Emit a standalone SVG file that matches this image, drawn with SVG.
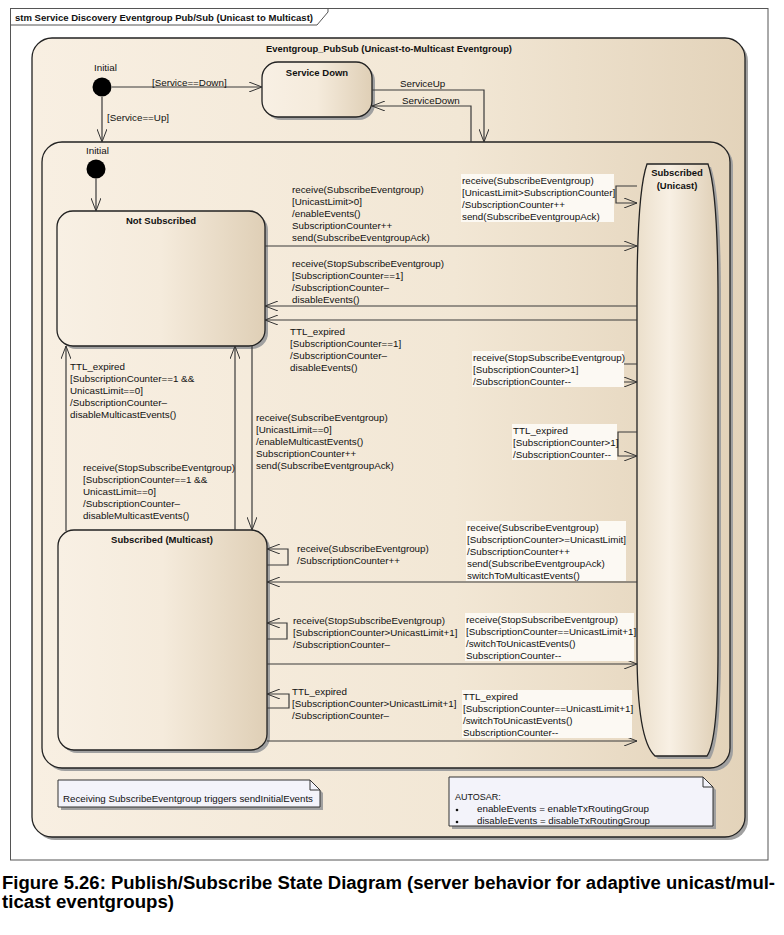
<svg xmlns="http://www.w3.org/2000/svg" width="784" height="935" viewBox="0 0 784 935">
<defs>
<linearGradient id="gState" x1="0" y1="0" x2="1" y2="0">
<stop offset="0" stop-color="#f8f0e4"/><stop offset="0.5" stop-color="#f5ebdc"/><stop offset="1" stop-color="#dfcfb6"/>
</linearGradient>
<linearGradient id="gComp" x1="0" y1="0" x2="1" y2="0">
<stop offset="0" stop-color="#f8efe2"/><stop offset="0.6" stop-color="#f2e7d5"/><stop offset="1" stop-color="#e3d3ba"/>
</linearGradient>
<linearGradient id="gUni" x1="0" y1="0" x2="1" y2="0">
<stop offset="0" stop-color="#ebdfcb"/><stop offset="0.4" stop-color="#f8f0e4"/><stop offset="1" stop-color="#dfcfb6"/>
</linearGradient>
<marker id="arr" viewBox="0 0 13 10" refX="13" refY="5" markerWidth="13" markerHeight="10" markerUnits="userSpaceOnUse" orient="auto">
<path d="M0,0 L13,5 L0,10" fill="none" stroke="#333" stroke-width="1"/>
</marker>
<style>
text{font-family:"Liberation Sans",Arial,sans-serif;fill:#111}
.lbl{font-size:9.8px}
.ttl{font-size:9.5px;font-weight:bold}
.st{stroke:#222;stroke-width:1.3}
.sh{fill:#a0a0a0}
.cn{fill:none;stroke:#3a3a3a;stroke-width:1.2}
.cn path{marker-end:url(#arr)}
.bg{fill:#fcf9f3}
.note{fill:#f3f3fa;stroke:#333;stroke-width:1}
.cap{font-size:18px;font-weight:bold;fill:#000}
</style>
</defs>
<rect width="784" height="935" fill="#fff"/>
<g id="frame">
<rect x="10.5" y="8.5" width="757.5" height="851.5" fill="#fff" stroke="#555" stroke-width="1"/>
<path d="M10.5,25 H317 L328,12 V8.5" fill="none" stroke="#555" stroke-width="1"/>
<text x="15" y="20.5" style="font-size:9px;font-weight:bold" textLength="298" lengthAdjust="spacingAndGlyphs">stm Service Discovery Eventgroup Pub/Sub (Unicast to Multicast)</text>
</g>
<g id="eventgroup_pubsub">
<rect x="35" y="41" width="713" height="799" rx="20" class="sh"/>
<rect x="32" y="38" width="713" height="799" rx="20" fill="url(#gComp)" class="st"/>
<text x="389" y="51.5" class="ttl" text-anchor="middle" textLength="246" lengthAdjust="spacingAndGlyphs">Eventgroup_PubSub (Unicast-to-Multicast Eventgroup)</text>
</g>
<g id="initial1">
<circle cx="102" cy="87" r="9.5" fill="#000"/>
<text x="94" y="70.5" class="lbl">Initial</text>
</g>
<g id="service_down">
<rect x="265" y="65" width="110" height="55" rx="16" class="sh"/>
<rect x="262" y="62" width="110" height="55" rx="16" fill="url(#gState)" class="st"/>
<text x="317" y="75.5" class="ttl" text-anchor="middle">Service Down</text>
</g>
<g id="active">
<rect x="45" y="145" width="688" height="626" rx="20" class="sh"/>
<rect x="42" y="142" width="688" height="626" rx="20" fill="url(#gComp)" class="st"/>
</g>
<g id="initial2">
<circle cx="96" cy="169" r="9.5" fill="#000"/>
<text x="86" y="154" class="lbl">Initial</text>
</g>
<g id="not_subscribed">
<rect x="60" y="214" width="208" height="135" rx="16" class="sh"/>
<rect x="57" y="211" width="208" height="135" rx="16" fill="url(#gState)" class="st"/>
<text x="161" y="223.5" class="ttl" text-anchor="middle">Not Subscribed</text>
</g>
<g id="subscribed_multicast">
<rect x="61" y="533" width="209" height="220" rx="16" class="sh"/>
<rect x="58" y="530" width="209" height="220" rx="16" fill="url(#gState)" class="st"/>
<text x="162" y="542.5" class="ttl" text-anchor="middle">Subscribed (Multicast)</text>
</g>
<g id="subscribed_unicast">
<path d="M650,167 L711,167 Q721,195 721,300 L721,650 Q721,743 710,759 L658,759 Q640,743 640,650 L640,300 Q640,195 650,167 Z" class="sh"/>
<path d="M647,164 L708,164 Q718,192 718,300 L718,650 Q718,740 707,756 L655,756 Q637,740 637,650 L637,300 Q637,192 647,164 Z" fill="url(#gUni)" class="st"/>
<text x="677" y="176" class="ttl" text-anchor="middle">Subscribed</text>
<text x="677" y="188.5" class="ttl" text-anchor="middle">(Unicast)</text>
</g>
<g id="connectors" class="cn">
<path d="M112,87 H262"/>
<path d="M102,97 V142"/>
<path d="M372,90 H484 V142"/>
<path d="M471,142 V106 H372"/>
<path d="M96,178.5 V211"/>
<path d="M265,246 H637"/>
<path d="M637,306 H265"/>
<path d="M637,320 H265"/>
<path d="M637,186 H616 V203 H637"/>
<path d="M637,364 H621 V382 H637"/>
<path d="M637,432 H618 V456 H637"/>
<path d="M637,582 H267"/>
<path d="M267,664 H637"/>
<path d="M267,741 H637"/>
<path d="M267,565 H288 V549 H267"/>
<path d="M267,639 H287 V623 H267"/>
<path d="M267,708 H289 V694 H267"/>
<path d="M66,531 V346"/>
<path d="M235,530 V346"/>
<path d="M252,346 V530"/>
</g>
<g id="labels">
<text x="152" y="85.5" class="lbl">[Service==Down]</text>
<text x="107" y="120.5" class="lbl">[Service==Up]</text>
<text x="400" y="86.5" class="lbl">ServiceUp</text>
<text x="402" y="103.5" class="lbl">ServiceDown</text>
<text class="lbl" y="192.5"><tspan x="292">receive(SubscribeEventgroup)</tspan><tspan x="292" dy="12">[UnicastLimit&gt;0]</tspan><tspan x="292" dy="12">/enableEvents()</tspan><tspan x="292" dy="12">SubscriptionCounter++</tspan><tspan x="292" dy="12">send(SubscribeEventgroupAck)</tspan></text>
<text class="lbl" y="266.5"><tspan x="292">receive(StopSubscribeEventgroup)</tspan><tspan x="292" dy="12">[SubscriptionCounter==1]</tspan><tspan x="292" dy="12">/SubscriptionCounter–</tspan><tspan x="292" dy="12">disableEvents()</tspan></text>
<text class="lbl" y="334.5"><tspan x="290">TTL_expired</tspan><tspan x="290" dy="12">[SubscriptionCounter==1]</tspan><tspan x="290" dy="12">/SubscriptionCounter–</tspan><tspan x="290" dy="12">disableEvents()</tspan></text>
<rect x="461" y="174" width="153" height="48" class="bg"/>
<text class="lbl" y="183.5"><tspan x="462">receive(SubscribeEventgroup)</tspan><tspan x="462" dy="12">[UnicastLimit&gt;SubscriptionCounter]</tspan><tspan x="462" dy="12">/SubscriptionCounter++</tspan><tspan x="462" dy="12">send(SubscribeEventgroupAck)</tspan></text>
<rect x="472" y="351" width="152" height="36" class="bg"/>
<text class="lbl" y="360.5"><tspan x="473">receive(StopSubscribeEventgroup)</tspan><tspan x="473" dy="12">[SubscriptionCounter&gt;1]</tspan><tspan x="473" dy="12">/SubscriptionCounter--</tspan></text>
<rect x="512" y="424" width="105" height="36" class="bg"/>
<text class="lbl" y="433.5"><tspan x="513">TTL_expired</tspan><tspan x="513" dy="12">[SubscriptionCounter&gt;1]</tspan><tspan x="513" dy="12">/SubscriptionCounter--</tspan></text>
<text class="lbl" y="369.5"><tspan x="70">TTL_expired</tspan><tspan x="70" dy="12">[SubscriptionCounter==1 &amp;&amp;</tspan><tspan x="70" dy="12">UnicastLimit==0]</tspan><tspan x="70" dy="12">/SubscriptionCounter–</tspan><tspan x="70" dy="12">disableMulticastEvents()</tspan></text>
<text class="lbl" y="470.5"><tspan x="83">receive(StopSubscribeEventgroup)</tspan><tspan x="83" dy="12">[SubscriptionCounter==1 &amp;&amp;</tspan><tspan x="83" dy="12">UnicastLimit==0]</tspan><tspan x="83" dy="12">/SubscriptionCounter–</tspan><tspan x="83" dy="12">disableMulticastEvents()</tspan></text>
<text class="lbl" y="420.5"><tspan x="256">receive(SubscribeEventgroup)</tspan><tspan x="256" dy="12">[UnicastLimit==0]</tspan><tspan x="256" dy="12">/enableMulticastEvents()</tspan><tspan x="256" dy="12">SubscriptionCounter++</tspan><tspan x="256" dy="12">send(SubscribeEventgroupAck)</tspan></text>
<rect x="466" y="521" width="160" height="60" class="bg"/>
<text class="lbl" y="530.5"><tspan x="467">receive(SubscribeEventgroup)</tspan><tspan x="467" dy="12">[SubscriptionCounter&gt;=UnicastLimit]</tspan><tspan x="467" dy="12">/SubscriptionCounter++</tspan><tspan x="467" dy="12">send(SubscribeEventgroupAck)</tspan><tspan x="467" dy="12">switchToMulticastEvents()</tspan></text>
<rect x="465" y="613" width="169" height="48" class="bg"/>
<text class="lbl" y="622.5"><tspan x="466">receive(StopSubscribeEventgroup)</tspan><tspan x="466" dy="12">[SubscriptionCounter==UnicastLimit+1]</tspan><tspan x="466" dy="12">/switchToUnicastEvents()</tspan><tspan x="466" dy="12">SubscriptionCounter--</tspan></text>
<rect x="462" y="690" width="170" height="48" class="bg"/>
<text class="lbl" y="699.5"><tspan x="463">TTL_expired</tspan><tspan x="463" dy="12">[SubscriptionCounter==UnicastLimit+1]</tspan><tspan x="463" dy="12">/switchToUnicastEvents()</tspan><tspan x="463" dy="12">SubscriptionCounter--</tspan></text>
<text class="lbl" y="551.5"><tspan x="297">receive(SubscribeEventgroup)</tspan><tspan x="297" dy="12">/SubscriptionCounter++</tspan></text>
<text class="lbl" y="623.5"><tspan x="293">receive(StopSubscribeEventgroup)</tspan><tspan x="293" dy="12">[SubscriptionCounter&gt;UnicastLimit+1]</tspan><tspan x="293" dy="12">/SubscriptionCounter–</tspan></text>
<text class="lbl" y="694.5"><tspan x="292">TTL_expired</tspan><tspan x="292" dy="12">[SubscriptionCounter&gt;UnicastLimit+1]</tspan><tspan x="292" dy="12">/SubscriptionCounter–</tspan></text>
</g>
<g id="note_initial_events">
<path d="M61,783 H313 L323,793 V810 H61 Z" class="sh"/>
<path d="M58,780 H310 L320,790 V807 H58 Z" class="note"/>
<path d="M310,780 V790 H320" fill="none" stroke="#333"/>
<text x="63" y="802" style="font-size:9px" textLength="250" lengthAdjust="spacingAndGlyphs">Receiving SubscribeEventgroup triggers sendInitialEvents</text>
</g>
<g id="note_autosar">
<path d="M452,780 H706 L716,790 V829 H452 Z" class="sh"/>
<path d="M449,777 H703 L713,787 V826 H449 Z" class="note"/>
<path d="M703,777 V787 H713" fill="none" stroke="#333"/>
<text x="455" y="800" style="font-size:9px">AUTOSAR:</text>
<circle cx="457" cy="810" r="1.3" fill="#111"/>
<circle cx="457" cy="822" r="1.3" fill="#111"/>
<text x="477" y="811.5" style="font-size:9px" textLength="172" lengthAdjust="spacingAndGlyphs">enableEvents = enableTxRoutingGroup</text>
<text x="477" y="823.5" style="font-size:9px" textLength="173" lengthAdjust="spacingAndGlyphs">disableEvents = disableTxRoutingGroup</text>
</g>
<g id="caption">
<text x="2" y="889" class="cap" textLength="773" lengthAdjust="spacingAndGlyphs">Figure 5.26: Publish/Subscribe State Diagram (server behavior for adaptive unicast/mul-</text>
<text x="2" y="908" class="cap" textLength="172" lengthAdjust="spacingAndGlyphs">ticast eventgroups)</text>
</g>
</svg>
